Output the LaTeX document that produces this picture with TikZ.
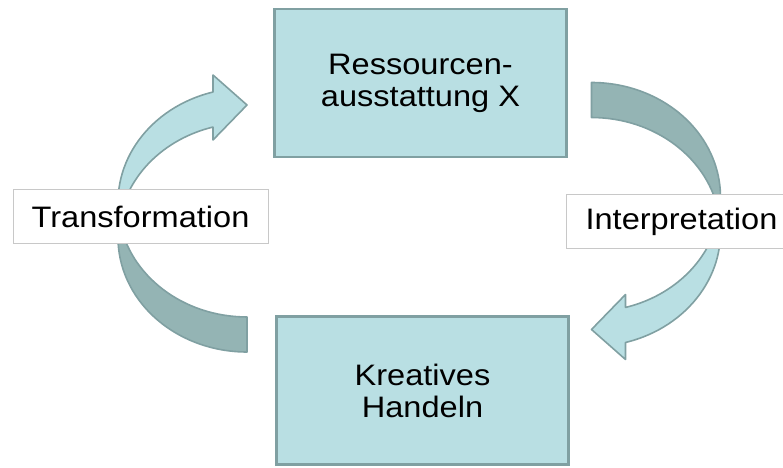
\documentclass[tikz,border=0pt]{standalone}
\usepackage{fontspec}
\setmainfont[FakeStretch=1.1]{Liberation Sans}
\definecolor{kastenfill}{RGB}{185,223,227}
\definecolor{kastenrand}{RGB}{128,160,162}
\definecolor{pfeilhell}{RGB}{185,223,227}
\definecolor{pfeildunkel}{RGB}{148,180,180}
\definecolor{labelrand}{RGB}{200,200,200}

% gebogener Blockpfeil, Ursprung = Mitte des Pfeils
\newcommand{\bogenpfeil}{%
  \filldraw[pfeilrand,fill=pfeildunkel] (-63,-6.5)
    arc[start angle=188.8,end angle=270,x radius=129,y radius=114.5]
    -- (64.5,-138.5)
    arc[start angle=270,end angle=171.2,x radius=129,y radius=114.5] -- cycle;
  \filldraw[pfeilrand,fill=pfeilhell] (30.46,121.44) -- (30.5,138.5) -- (64.5,108.5)
    -- (30.5,73.5) -- (30.46,86.44)
    arc[start angle=105.3,end angle=171.2,x radius=129,y radius=114.5]
    arc[start angle=188.8,end angle=105.3,x radius=129,y radius=114.5] -- cycle;
}

\begin{document}
\begin{tikzpicture}[x=0.5pt,y=0.5pt,
	kasten/.style={draw=kastenrand,line width=1.2pt,fill=kastenfill,
		minimum width=146pt,minimum height=74pt,align=center,
		font=\fontsize{14.8}{16}\selectfont},
	beschriftung/.style={draw=labelrand,line width=0.5pt,fill=white,
		minimum height=27pt,font=\fontsize{14.8}{16}\selectfont},
	pfeilrand/.style={draw=kastenrand,line width=0.8pt,line join=round}]
	\useasboundingbox (0,0) rectangle (783,467);
	\begin{scope}[shift={(182.5,253.5)}] \bogenpfeil \end{scope}
	\begin{scope}[shift={(656,246)},rotate=180] \bogenpfeil \end{scope}
	\node[kasten] (ressourcen) at (420.5,384) {Ressourcen-\\ausstattung X};
	\node[kasten] (handeln) at (422.5,76.5) {Kreatives\\Handeln};
	\node[beschriftung,minimum width=127.5pt] (transformation) at (140.5,250.5) {Transformation};
	\node[beschriftung,minimum width=115.5pt] (interpretation) at (681.5,245.5) {Interpretation};
\end{tikzpicture}
\end{document}
